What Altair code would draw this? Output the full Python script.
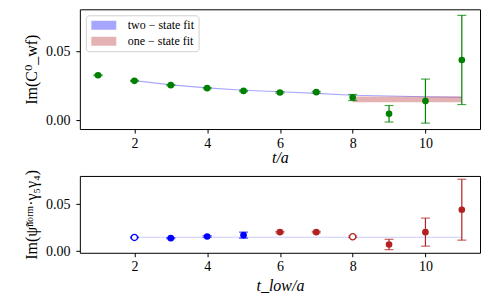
import altair as alt
import pandas as pd

# ---------------- data ----------------
t_top = [1, 2, 3, 4, 5, 6, 7, 8, 9, 10, 11]
top_val = [0.0326, 0.0285, 0.0254, 0.0232, 0.0212, 0.0201, 0.0203, 0.0164, 0.0046, 0.0138, 0.0437]
top_err = [0.0004, 0.0004, 0.0004, 0.0005, 0.0005, 0.0005, 0.0006, 0.0022, 0.0060, 0.0160, 0.0324]

fit2_t = [2, 3, 4, 5, 6, 7, 8, 9, 10, 11]
fit2_val = [0.0287, 0.0256, 0.0234, 0.0217, 0.0206, 0.0194, 0.0181, 0.0175, 0.0170, 0.0166]
fit2_err = [0.0004] * 10

fit1_t = [8, 11]
fit1_val = [0.0151, 0.0151]
fit1_err = [0.0021, 0.0021]

t_low = [2, 3, 4, 5, 6, 7, 8, 9, 10, 11]
bot_val = [0.0146, 0.0138, 0.0156, 0.0170, 0.0202, 0.0202, 0.0153, 0.0071, 0.0202, 0.0440]
bot_err = [0.0005, 0.0006, 0.0008, 0.0032, 0.0008, 0.0008, 0.0009, 0.0055, 0.0149, 0.0323]
bot_group = ["two", "two", "two", "two", "one", "one", "one", "one", "one", "one"]
bot_open = [True, False, False, False, False, False, True, False, False, False]

band_t = [2, 11]
band_val = [0.0148, 0.0148]
band_err = [0.0005, 0.0005]

legend_labels = ["two \u2212 state fit", "one \u2212 state fit"]

GREEN = "#008000"
BLUE = "#0000ff"
RED = "#b22222"
FONT = "Liberation Serif, DejaVu Serif, serif"

# ---------------- frames ----------------
top_df = pd.DataFrame({"t": t_top, "v": top_val, "lo": [v - e for v, e in zip(top_val, top_err)],
                       "hi": [v + e for v, e in zip(top_val, top_err)]})
fit2_df = pd.DataFrame({"t": fit2_t, "lo": [v - e for v, e in zip(fit2_val, fit2_err)],
                        "hi": [v + e for v, e in zip(fit2_val, fit2_err)], "fit": legend_labels[0]})
fit1_df = pd.DataFrame({"t": fit1_t, "lo": [v - e for v, e in zip(fit1_val, fit1_err)],
                        "hi": [v + e for v, e in zip(fit1_val, fit1_err)], "fit": legend_labels[1]})
fits_df = pd.concat([fit2_df, fit1_df])

bot_df = pd.DataFrame({"t": t_low, "v": bot_val, "lo": [v - e for v, e in zip(bot_val, bot_err)],
                       "hi": [v + e for v, e in zip(bot_val, bot_err)], "g": bot_group, "open": bot_open})
band_df = pd.DataFrame({"t": band_t, "lo": [v - e for v, e in zip(band_val, band_err)],
                        "hi": [v + e for v, e in zip(band_val, band_err)]})

W = 401
xscale = alt.Scale(domain=[0.5, 11.5], nice=False, zero=False)
common_axis = dict(grid=False, domain=False, tickColor="black", tickSize=4, labelFont=FONT,
                   labelFontSize=14, labelColor="black", titleFont=FONT, titleFontSize=16,
                   titleColor="black", titleFontWeight="normal")

# ---------------- top panel ----------------
ytop = alt.Scale(domain=[-0.0065, 0.0805], nice=False, zero=False)
xax_top = alt.Axis(values=[2, 4, 6, 8, 10], format="d", title="t/a", labelPadding=3, titlePadding=0,
                   titleFontStyle="italic", **common_axis)
yax_top = alt.Axis(values=[0.0, 0.05], format=".2f", title="Im(C\u2070_wf)", labelPadding=6, titlePadding=6, **common_axis)

color_scale = alt.Scale(domain=legend_labels, range=[BLUE, RED])
fit_area = alt.Chart(fits_df).mark_area(opacity=0.35).encode(
    x=alt.X("t:Q", scale=xscale, axis=xax_top),
    y=alt.Y("lo:Q", scale=ytop, axis=yax_top),
    y2="hi:Q",
    color=alt.Color("fit:N", scale=color_scale, sort=legend_labels, legend=alt.Legend(
        title=None, orient="top-left", offset=6, padding=4, fillColor="white", strokeColor="#d0d0d0",
        cornerRadius=3, labelFont=FONT, labelFontSize=12, labelColor="black",
        symbolType="M-2.78,-1L2.78,-1L2.78,1L-2.78,1Z", symbolSize=81, symbolOpacity=0.35,
        symbolStrokeWidth=0, symbolOffset=8, labelOffset=18, rowPadding=4)),
    detail="fit:N",
)

top_rule = alt.Chart(top_df).mark_rule(color=GREEN, strokeWidth=1.2).encode(
    x=alt.X("t:Q", scale=xscale), y=alt.Y("lo:Q", scale=ytop), y2="hi:Q")
top_cap_lo = alt.Chart(top_df).mark_tick(color=GREEN, orient="horizontal", size=9, thickness=1.2).encode(
    x=alt.X("t:Q", scale=xscale), y=alt.Y("lo:Q", scale=ytop))
top_cap_hi = alt.Chart(top_df).mark_tick(color=GREEN, orient="horizontal", size=9, thickness=1.2).encode(
    x=alt.X("t:Q", scale=xscale), y=alt.Y("hi:Q", scale=ytop))
top_pts = alt.Chart(top_df).mark_circle(color=GREEN, size=44, opacity=1).encode(
    x=alt.X("t:Q", scale=xscale), y=alt.Y("v:Q", scale=ytop))

top = alt.layer(fit_area, top_rule, top_cap_lo, top_cap_hi, top_pts).properties(width=W, height=120)

# ---------------- bottom panel ----------------
ybot = alt.Scale(domain=[-0.0017, 0.0798], nice=False, zero=False)
xax_bot = alt.Axis(values=[2, 4, 6, 8, 10], format="d", title="t_low/a", labelPadding=3, titlePadding=4,
                   titleFontStyle="italic", **common_axis)
yax_bot = alt.Axis(values=[0.0, 0.05], format=".2f", title="Im(\u03c8\u0303\u207f\u1d52\u02b3\u1d50\u00b7\u03b3\u2085\u03b3\u2084)",
                   labelPadding=6, titlePadding=6, **common_axis)
gcol = alt.Scale(domain=["two", "one"], range=[BLUE, RED])

band = alt.Chart(band_df).mark_area(color=BLUE, opacity=0.2).encode(
    x=alt.X("t:Q", scale=xscale, axis=xax_bot),
    y=alt.Y("lo:Q", scale=ybot, axis=yax_bot),
    y2="hi:Q")
bot_rule = alt.Chart(bot_df).mark_rule(strokeWidth=1.2).encode(
    x=alt.X("t:Q", scale=xscale), y=alt.Y("lo:Q", scale=ybot), y2="hi:Q",
    color=alt.Color("g:N", scale=gcol, legend=None))
bot_cap_lo = alt.Chart(bot_df).mark_tick(orient="horizontal", size=9, thickness=1.2).encode(
    x=alt.X("t:Q", scale=xscale), y=alt.Y("lo:Q", scale=ybot),
    color=alt.Color("g:N", scale=gcol, legend=None))
bot_cap_hi = alt.Chart(bot_df).mark_tick(orient="horizontal", size=9, thickness=1.2).encode(
    x=alt.X("t:Q", scale=xscale), y=alt.Y("hi:Q", scale=ybot),
    color=alt.Color("g:N", scale=gcol, legend=None))
bot_pts = alt.Chart(bot_df).transform_filter("!datum.open").mark_circle(size=44, opacity=1).encode(
    x=alt.X("t:Q", scale=xscale), y=alt.Y("v:Q", scale=ybot),
    color=alt.Color("g:N", scale=gcol, legend=None))
bot_open_pts = alt.Chart(bot_df).transform_filter("datum.open").mark_point(
    shape="circle", size=38, filled=False, fill="white", fillOpacity=1, strokeWidth=1.3, opacity=1).encode(
    x=alt.X("t:Q", scale=xscale), y=alt.Y("v:Q", scale=ybot),
    stroke=alt.Stroke("g:N", scale=gcol, legend=None))

bottom = alt.layer(band, bot_rule, bot_cap_lo, bot_cap_hi, bot_pts, bot_open_pts).properties(width=W, height=77)

chart = alt.vconcat(top, bottom, spacing=1).resolve_scale(color="independent", stroke="independent").configure_view(
    stroke="black", strokeWidth=1).properties(padding={"left": 15, "top": 0, "right": 0, "bottom": 0})

chart.save("out.html", embed_options={"renderer": "svg", "actions": False})
